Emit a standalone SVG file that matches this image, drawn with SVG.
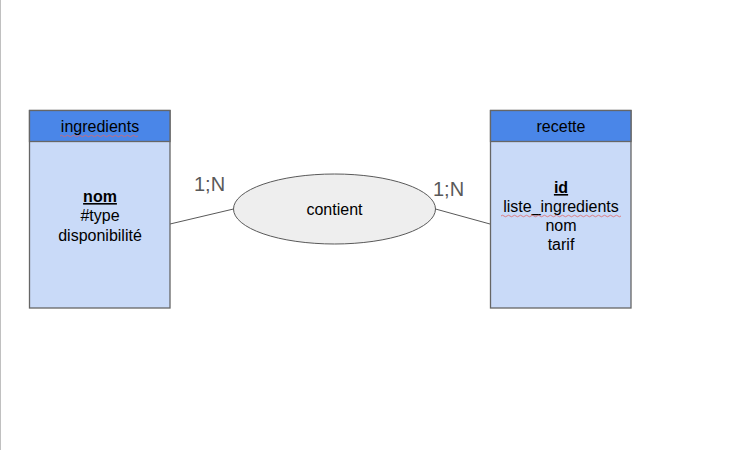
<svg xmlns="http://www.w3.org/2000/svg" width="756" height="450" viewBox="0 0 756 450">
<style>
text{font-family:"Liberation Sans",Arial,sans-serif;font-size:16px;fill:#000;text-anchor:middle}
.body{fill:#c9daf8;stroke:#666;stroke-width:1.3}
.head{fill:#4a86e8;stroke:#666;stroke-width:1.3}
.card{font-size:20px;fill:#595959;text-anchor:start}
.conn{stroke:#595959;stroke-width:1;fill:none}
.wavy{stroke:#e06666;stroke-width:0.8;fill:none}
</style>
<rect width="756" height="450" fill="#fff"/>
<line x1="0.5" y1="0" x2="0.5" y2="450" stroke="#c0c0c0" stroke-width="1"/>
<g id="connectors">
<line class="conn" x1="170" y1="224" x2="233.5" y2="209"/>
<line class="conn" x1="435.5" y1="209" x2="490" y2="224"/>
<text class="card" x="194" y="191">1;N</text>
<text class="card" x="433" y="196">1;N</text>
</g>
<g id="ingredients">
<rect class="body" x="29.5" y="110.5" width="140.5" height="197.5"/>
<rect class="head" x="29.5" y="110.5" width="140.5" height="31"/>
<text x="100" y="132">ingredients</text>
<path class="wavy" d="M60 136 q1.5 -1.5 3 0 t3 0 t3 0 t3 0 t3 0 t3 0 t3 0 t3 0 t3 0 t3 0 t3 0 t3 0 t3 0 t3 0 t3 0 t3 0 t3 0 t3 0 t3 0 t3 0 t3 0 t3 0 t3 0 t3 0 t3 0 t3 0"/>
<text x="100" y="202" font-weight="bold" text-decoration="underline">nom</text>
<text x="100" y="221">#type</text>
<text x="100" y="241">disponibilité</text>
</g>
<g id="contient">
<ellipse cx="334.5" cy="209" rx="101" ry="35" fill="#eeeeee" stroke="#595959" stroke-width="1"/>
<text x="334.5" y="215">contient</text>
</g>
<g id="recette">
<rect class="body" x="490.5" y="110.5" width="140.5" height="197.5"/>
<rect class="head" x="490.5" y="110.5" width="140.5" height="31"/>
<text x="561" y="132">recette</text>
<text x="561" y="193" font-weight="bold" text-decoration="underline">id</text>
<text x="561" y="212">liste_ingredients</text>
<path class="wavy" d="M501 216 q1.5 -1.5 3 0 t3 0 t3 0 t3 0 t3 0 t3 0 t3 0 t3 0 t3 0 t3 0 t3 0 t3 0 t3 0 t3 0 t3 0 t3 0 t3 0 t3 0 t3 0 t3 0 t3 0 t3 0 t3 0 t3 0 t3 0 t3 0 t3 0 t3 0 t3 0 t3 0 t3 0 t3 0 t3 0 t3 0 t3 0 t3 0 t3 0 t3 0 t3 0 t3 0"/>
<text x="561" y="231">nom</text>
<text x="561" y="250">tarif</text>
</g>
</svg>
